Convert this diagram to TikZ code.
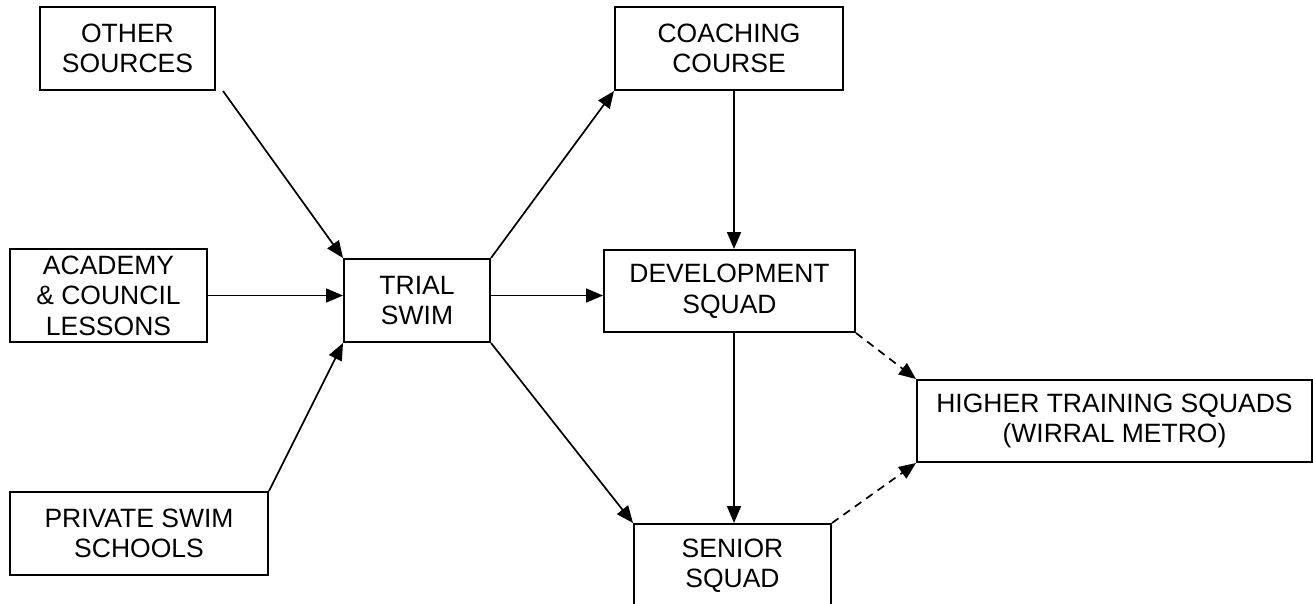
\documentclass[tikz,border=0pt]{standalone}
\usepackage{fontspec}
\setmainfont{Liberation Sans}
\usepackage{tikz}
\usetikzlibrary{positioning}
\usetikzlibrary{shapes,arrows.meta,positioning}
\tikzstyle{block} = [rectangle, draw, fill=white, line width=2pt, align=center,
inner sep=0pt, font=\fontsize{26.5}{30.5}\selectfont]
\tikzstyle{line} = [draw, line width=1.7pt, -{Triangle[length=17pt,width=14pt]}]
\tikzstyle{dline} = [line, dash pattern=on 8pt off 6pt]

\begin{document}
\begin{tikzpicture}[x=1pt, y=-1pt, node distance = 100pt]
\useasboundingbox (0,0) rectangle (1313,603);
    % nodes
\node [block, minimum width=175pt, minimum height=83pt] (other) at (127.5,48.5) {OTHER\\SOURCES};
\node [block, minimum width=228pt, minimum height=83pt] (coach) at (729,48.5) {COACHING\\COURSE};
\node [block, minimum width=197pt, minimum height=93pt] (acad) at (108.5,295.5) {ACADEMY\\\& COUNCIL\\LESSONS};
\node [block, minimum width=146pt, minimum height=83pt, right=135pt of acad, yshift=-5pt] (trial) {TRIAL\\SWIM};
\node [block, minimum width=251pt, minimum height=82pt, right=112pt of trial, yshift=9.5pt] (dev) {DEVELOPMENT\\SQUAD};
\node [block, minimum width=258pt, minimum height=83pt] (private) at (139,533.5) {PRIVATE SWIM\\SCHOOLS};
\node [block, minimum width=197pt, minimum height=83pt, below=190pt of dev, xshift=3pt] (senior) {SENIOR\\SQUAD};
\node [block, minimum width=395pt, minimum height=82pt] (higher) at (1114.5,421) {HIGHER TRAINING SQUADS\\(WIRRAL METRO)};
\coordinate (cc) at ([xshift=5pt]coach.south);
\coordinate (os) at ([xshift=7pt]other.south east);

%edges
\path [line] (os) -- (trial.north west);
\path [line] (acad.east) -- (acad.east -| trial.west);
\path [line] (private.north east) -- (trial.south west);
\path [line] (trial.north east) -- (coach.south west);
\path [line] (acad.east -| trial.east) -- (acad.east -| dev.west);
\path [line] (trial.south east) -- (senior.north west);
\path [line] (cc) -- (cc |- dev.north);
\path [line] (cc |- dev.south) -- (cc |- senior.north);
\path [dline] (dev.south east) -- (higher.north west);
\path [dline] (senior.north east) -- (higher.south west);

\end{tikzpicture}
\end{document}
